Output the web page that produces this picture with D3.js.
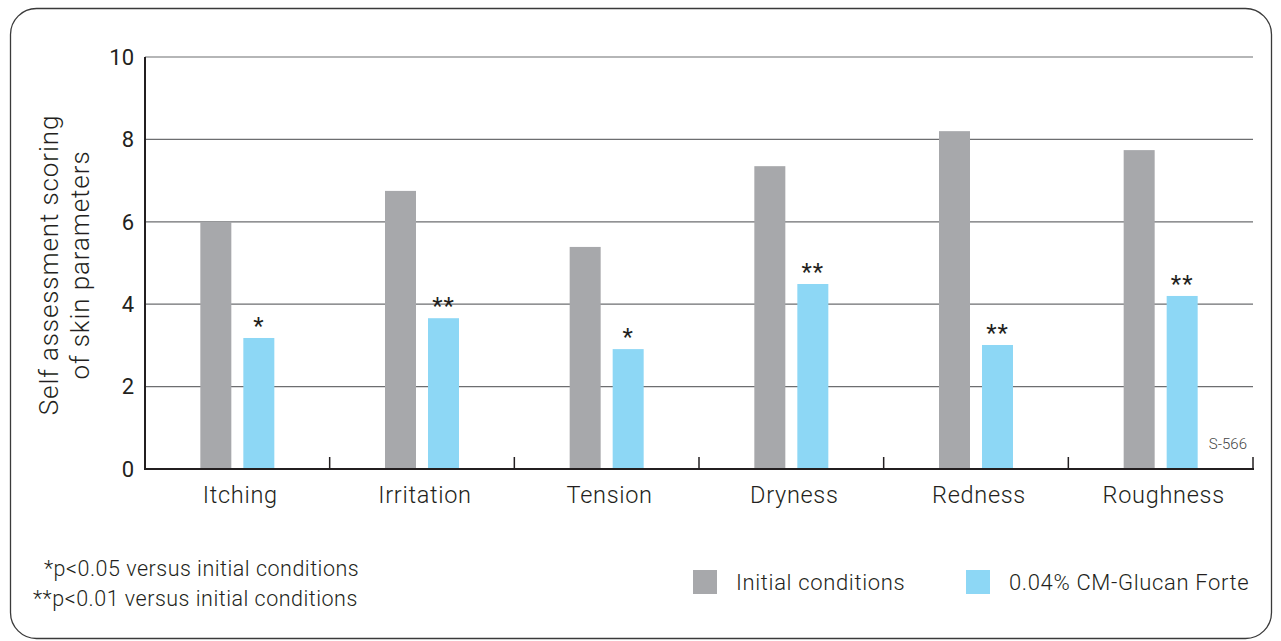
<!DOCTYPE html>
<html>
<head>
<meta charset="utf-8">
<script src="https://d3js.org/d3.v7.min.js"></script>
<style>
  body { margin: 0; background: #fff; }
  svg { display: block; font-family: Roboto, "Noto Sans", sans-serif; font-weight: 300; }
</style>
</head>
<body>
<script>
// data
const categories = ['Itching', 'Irritation', 'Tension', 'Dryness', 'Redness', 'Roughness'];
const initialValues = [6.0, 6.75, 5.39, 7.35, 8.2, 7.74];
const glucanValues = [3.18, 3.66, 2.91, 4.49, 3.01, 4.2];
const significance = ['*', '**', '*', '**', '**', '**'];
const seriesNames = ['Initial conditions', '0.04% CM-Glucan Forte'];
const seriesColors = ['#a7a8ab', '#8dd7f5'];
const yTicks = [0, 2, 4, 6, 8, 10];
const footnotes = ['*p<0.05 versus initial conditions', '**p<0.01 versus initial conditions'];

const W = 1281, H = 641;
const margin = { left: 145, right: 28, top: 57, bottom: 172 };
const textColor = '#231f20';

const svg = d3.select('body').append('svg')
    .attr('width', W).attr('height', H);

// outer rounded frame
svg.append('rect')
    .attr('x', 10.5).attr('y', 8.5)
    .attr('width', 1261).attr('height', 630)
    .attr('rx', 26).attr('ry', 26)
    .attr('fill', 'none')
    .attr('stroke', '#3a3a3a')
    .attr('stroke-width', 1.3);

const x = d3.scaleBand()
    .domain(categories)
    .range([margin.left, W - margin.right]);

const y = d3.scaleLinear()
    .domain([0, 10])
    .range([H - margin.bottom, margin.top]);

// grid lines
svg.append('g')
    .selectAll('line')
    .data(yTicks.filter(d => d > 0))
    .join('line')
    .attr('x1', margin.left).attr('x2', W - margin.right)
    .attr('y1', d => y(d)).attr('y2', d => y(d))
    .attr('stroke', '#6d6e70')
    .attr('stroke-width', 1.2);

// y tick labels
svg.append('g')
    .selectAll('text')
    .data(yTicks)
    .join('text')
    .attr('x', margin.left - 11)
    .attr('y', d => y(d))
    .attr('dy', '0.35em')
    .attr('text-anchor', 'end')
    .attr('font-size', 22)
    .attr('font-weight', 400)
    .attr('fill', textColor)
    .text(d => d);

// bars
const barW = 31, off = 21.5;
const groups = svg.append('g')
    .selectAll('g')
    .data(categories)
    .join('g');

groups.append('rect')
    .attr('x', d => x(d) + x.bandwidth() / 2 - off - barW / 2)
    .attr('y', (d, i) => y(initialValues[i]))
    .attr('width', barW)
    .attr('height', (d, i) => y(0) - y(initialValues[i]))
    .attr('fill', seriesColors[0]);

groups.append('rect')
    .attr('x', d => x(d) + x.bandwidth() / 2 + off - barW / 2)
    .attr('y', (d, i) => y(glucanValues[i]))
    .attr('width', barW)
    .attr('height', (d, i) => y(0) - y(glucanValues[i]))
    .attr('fill', seriesColors[1]);

groups.append('text')
    .attr('x', d => x(d) + x.bandwidth() / 2 + off)
    .attr('y', (d, i) => y(glucanValues[i]) - 4)
    .attr('text-anchor', 'middle')
    .attr('font-size', 24)
    .attr('font-weight', 400)
    .attr('letter-spacing', 1)
    .attr('fill', textColor)
    .text((d, i) => significance[i]);

// axes lines
svg.append('line')
    .attr('x1', margin.left).attr('x2', margin.left)
    .attr('y1', y(10)).attr('y2', y(0) + 1)
    .attr('stroke', '#231f20').attr('stroke-width', 2);

svg.append('line')
    .attr('x1', margin.left - 1).attr('x2', W - margin.right + 1)
    .attr('y1', y(0)).attr('y2', y(0))
    .attr('stroke', '#231f20').attr('stroke-width', 2.2);

// category separator ticks
svg.append('g')
    .selectAll('line')
    .data(categories)
    .join('line')
    .attr('x1', d => x(d) + x.bandwidth())
    .attr('x2', d => x(d) + x.bandwidth())
    .attr('y1', y(0) - 12).attr('y2', y(0))
    .attr('stroke', '#231f20').attr('stroke-width', 1.5);

// category labels
svg.append('g')
    .selectAll('text')
    .data(categories)
    .join('text')
    .attr('x', d => x(d) + x.bandwidth() / 2 + 3)
    .attr('y', y(0) + 34)
    .attr('text-anchor', 'middle')
    .attr('font-size', 23.5)
    .attr('letter-spacing', 0.7)
    .attr('fill', textColor)
    .text(d => d);

// y axis title
const yt = svg.append('text')
    .attr('transform', 'translate(0,265) rotate(-90)')
    .attr('text-anchor', 'middle')
    .attr('font-size', 26)
    .attr('letter-spacing', 0.9)
    .attr('fill', textColor);
yt.append('tspan').attr('x', 0).attr('y', 58).text('Self assessment scoring');
yt.append('tspan').attr('x', 0).attr('y', 89).text('of skin parameters');

// sample code
svg.append('text')
    .attr('x', 1247).attr('y', 449)
    .attr('text-anchor', 'end')
    .attr('font-size', 15)
    .attr('fill', '#444')
    .text('S-566');

// footnotes
svg.append('text')
    .attr('x', 44).attr('y', 576)
    .attr('font-size', 21.5)
    .attr('letter-spacing', 0.5)
    .attr('fill', textColor)
    .text(footnotes[0]);
svg.append('text')
    .attr('x', 33).attr('y', 606)
    .attr('font-size', 21.5)
    .attr('letter-spacing', 0.5)
    .attr('fill', textColor)
    .text(footnotes[1]);

// legend
const legendX = [693, 966];
const legend = svg.append('g')
    .selectAll('g')
    .data(seriesNames)
    .join('g')
    .attr('transform', (d, i) => `translate(${legendX[i]},570)`);
legend.append('rect')
    .attr('width', 24).attr('height', 24)
    .attr('fill', (d, i) => seriesColors[i]);
legend.append('text')
    .attr('x', 43).attr('y', 20)
    .attr('font-size', 22)
    .attr('letter-spacing', 0.65)
    .attr('fill', textColor)
    .text(d => d);
</script>
</body>
</html>
